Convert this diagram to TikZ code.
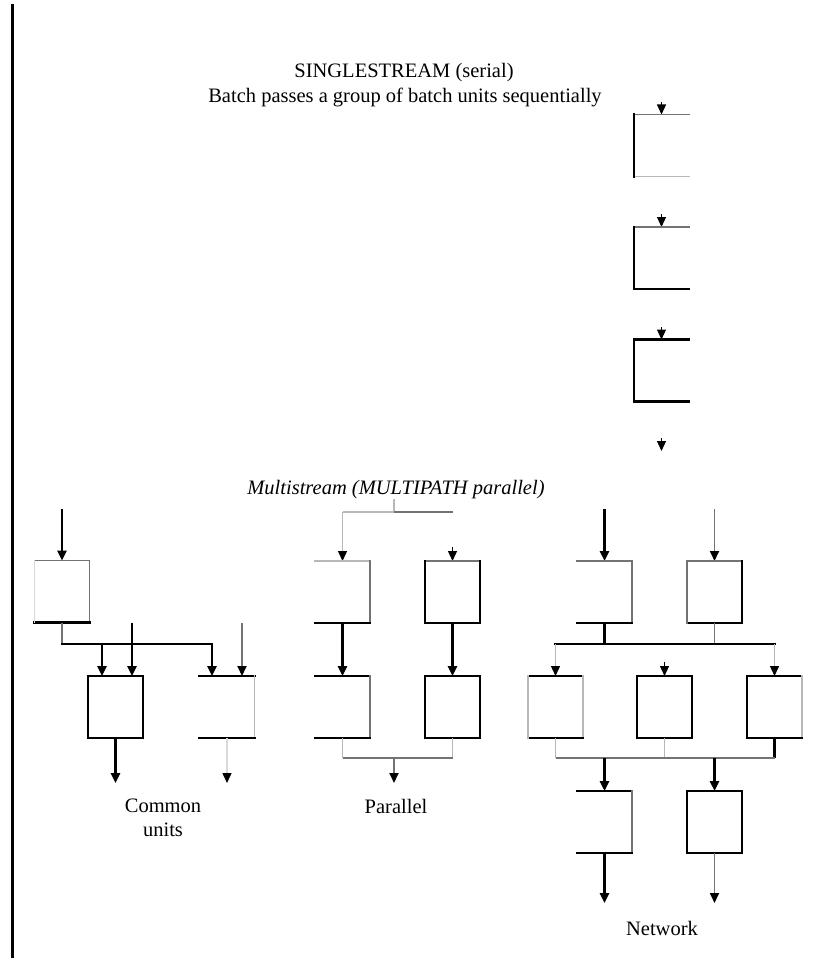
\documentclass[tikz,border=0pt]{standalone}
\usepackage{fontspec}
\setmainfont{Liberation Serif}
\usetikzlibrary{arrows.meta}

\tikzset{
  blk/.style={draw=black, line width=2.4pt},
  gry/.style={draw=black!55, line width=1.8pt},
  lgt/.style={draw=black!28, line width=1.4pt},
  vlgt/.style={draw=black!15, line width=1.4pt},
  noedge/.style={draw=none},
  arr/.style={-{Triangle[length=10pt,width=9pt,color=black]}},
  headonly/.style={draw=black, line width=1.2pt, arr},
  ubox/.style={rectangle, draw=none, inner sep=0pt, outer sep=0pt,
               minimum width=55pt, minimum height=62pt},
  lbl/.style={font=\fontsize{20.5}{24}\selectfont, inner sep=0pt, align=center},
}

% edges of an open unit box: name, top, right, bottom, left
\newcommand\unitbox[5]{%
  \draw[line cap=rect,#2] (#1.north west) -- (#1.north east);
  \draw[line cap=rect,#3] (#1.north east) -- (#1.south east);
  \draw[line cap=rect,#4] (#1.south west) -- (#1.south east);
  \draw[line cap=rect,#5] (#1.north west) -- (#1.south west);
}

\begin{document}
\begin{tikzpicture}[x=1pt,y=-1pt]
\useasboundingbox (0,0) rectangle (814,963);

% left rule
\coordinate (rtop) at (12,4);
\coordinate (rbot) at (12,958);
\draw[line width=3pt] (rtop) -- (rbot);

% ---------------- single stream ----------------
\node[lbl] (stitle) at (404,73) {SINGLESTREAM (serial)};
\node[lbl] (ssub) at (405,97) {Batch passes a group of batch units sequentially};

\node[ubox] (s1) at (661.5,145.5) {};
\node[ubox] (s2) at (661.5,258) {};
\node[ubox] (s3) at (661.5,370.5) {};
\coordinate (s1a) at (661.5,102);
\coordinate (s2a) at (661.5,214);
\coordinate (s3a) at (661.5,327);
\coordinate (sf1) at (661.5,438);
\coordinate (sf2) at (661.5,451);
\draw[headonly] (s1a) -- (s1.north);
\draw[headonly] (s2a) -- (s2.north);
\draw[headonly] (s3a) -- (s3.north);
\draw[headonly] (sf1) -- (sf2);
\unitbox{s1}{gry}{noedge}{lgt}{blk}
\unitbox{s2}{gry}{noedge}{blk}{blk}
\unitbox{s3}{blk}{noedge}{blk}{blk}

% ---------------- multistream title ----------------
\node[lbl] (mtitle) at (396,490) {\itshape Multistream (MULTIPATH parallel)};

% ---------------- common units ----------------
\node[ubox] (ca) at (62,591.5) {};
\node[ubox] (cb) at (115.5,707) {};
\node[ubox] (cc) at (227,707) {};
\coordinate (cin) at (62,509);
\draw[blk,arr] (cin) -- (ca.north);
\unitbox{ca}{gry}{gry}{blk}{vlgt}
\coordinate (cb1) at (62,644);
\coordinate (cb2) at (102,644);
\coordinate (cb3) at (212,644);
\draw[gry] (ca.south) -- (cb1);
\draw[blk,line cap=rect] (cb1) -- (cb3);
\draw[blk,arr] (cb2) -- (cb2 |- cb.north);
\draw[blk,arr] (cb3) -- (cb3 |- cc.north);
\coordinate (cx1) at (132,623);
\coordinate (cx2) at (242,623);
\draw[blk,arr] (cx1) -- (cx1 |- cb.north);
\draw[gry,arr] (cx2) -- (cx2 |- cc.north);
\unitbox{cb}{blk}{blk}{blk}{blk}
\unitbox{cc}{blk}{lgt}{blk}{noedge}
\coordinate (cout1) at (115.5,783);
\coordinate (cout2) at (227,783);
\draw[blk,arr] (cb.south) -- (cout1);
\draw[vlgt,arr] (cc.south) -- (cout2);
\node[lbl] (clbl) at (163,818) {Common\\units};

% ---------------- parallel ----------------
\node[ubox] (p1) at (342.5,592) {};
\node[ubox] (p2) at (452.5,592) {};
\node[ubox] (p3) at (342.5,707) {};
\node[ubox] (p4) at (452.5,707) {};
\coordinate (pj) at (394,499);
\coordinate (pjm) at (394,512);
\coordinate (pjl) at (342.5,512);
\coordinate (pjr) at (452.5,512);
\draw[lgt] (pj) -- (pjm);
\draw[lgt] (pjl) -- (pjm);
\draw[gry] (pjm) -- (pjr);
\draw[lgt,arr] (pjl) -- (pjl |- p1.north);
\coordinate (pra) at (452.5,547);
\draw[headonly] (pra) -- (p2.north);
\unitbox{p1}{lgt}{gry}{blk}{noedge}
\unitbox{p2}{gry}{blk}{blk}{blk}
\draw[blk,arr] (p1.south) -- (p3.north);
\draw[blk,arr] (p2.south) -- (p4.north);
\unitbox{p3}{blk}{gry}{blk}{noedge}
\unitbox{p4}{blk}{blk}{blk}{blk}
\coordinate (pm1) at (342.5,758);
\coordinate (pm2) at (452.5,758);
\coordinate (pm) at (394,758);
\coordinate (pout) at (394,783);
\draw[lgt] (p3.south) -- (pm1);
\draw[lgt] (p4.south) -- (pm2);
\draw[gry] (pm1) -- (pm2);
\draw[gry,arr] (pm) -- (pout);
\node[lbl] (plbl) at (396,806) {Parallel};

% ---------------- network ----------------
\node[ubox] (n1) at (604.5,592) {};
\node[ubox] (n2) at (714.5,592) {};
\node[ubox] (n3) at (555.5,707) {};
\node[ubox] (n4) at (664.5,707) {};
\node[ubox] (n5) at (774.5,707) {};
\node[ubox] (n6) at (604.5,822) {};
\node[ubox] (n7) at (714.5,822) {};
\coordinate (nin1) at (604.5,509);
\coordinate (nin2) at (714.5,509);
\draw[blk,arr] (nin1) -- (n1.north);
\draw[gry,arr] (nin2) -- (n2.north);
\unitbox{n1}{gry}{gry}{blk}{noedge}
\unitbox{n2}{gry}{blk}{blk}{gry}
\coordinate (nb1) at (555.5,644);
\coordinate (nb3) at (774.5,644);
\draw[blk] (n1.south) -- (n1.south |- nb1);
\draw[gry] (n2.south) -- (n2.south |- nb1);
\draw[blk,line cap=rect] (nb1) -- (nb3);
\draw[lgt,arr] (nb1) -- (n3.north);
\draw[lgt,arr] (nb3) -- (n5.north);
\coordinate (n4a) at (664.5,662);
\draw[headonly] (n4a) -- (n4.north);
\unitbox{n3}{blk}{lgt}{blk}{lgt}
\unitbox{n4}{blk}{blk}{blk}{blk}
\unitbox{n5}{blk}{lgt}{blk}{blk}
\coordinate (nm1) at (555.5,758);
\coordinate (nm3) at (774.5,758);
\coordinate (nm2a) at (604.5,758);
\coordinate (nm2b) at (714.5,758);
\draw[lgt] (n3.south) -- (nm1);
\draw[lgt] (n4.south) -- (n4.south |- nm1);
\draw[blk] (n5.south) -- (nm3);
\draw[gry] (nm1) -- (nm3);
\draw[blk,arr] (nm2a) -- (n6.north);
\draw[blk,arr] (nm2b) -- (n7.north);
\unitbox{n6}{blk}{gry}{blk}{noedge}
\unitbox{n7}{blk}{blk}{blk}{blk}
\coordinate (nout1) at (604.5,903);
\coordinate (nout2) at (714.5,903);
\draw[blk,arr] (n6.south) -- (nout1);
\draw[gry,arr] (n7.south) -- (nout2);
\node[lbl] (nlbl) at (662,928) {Network};

\end{tikzpicture}
\end{document}
